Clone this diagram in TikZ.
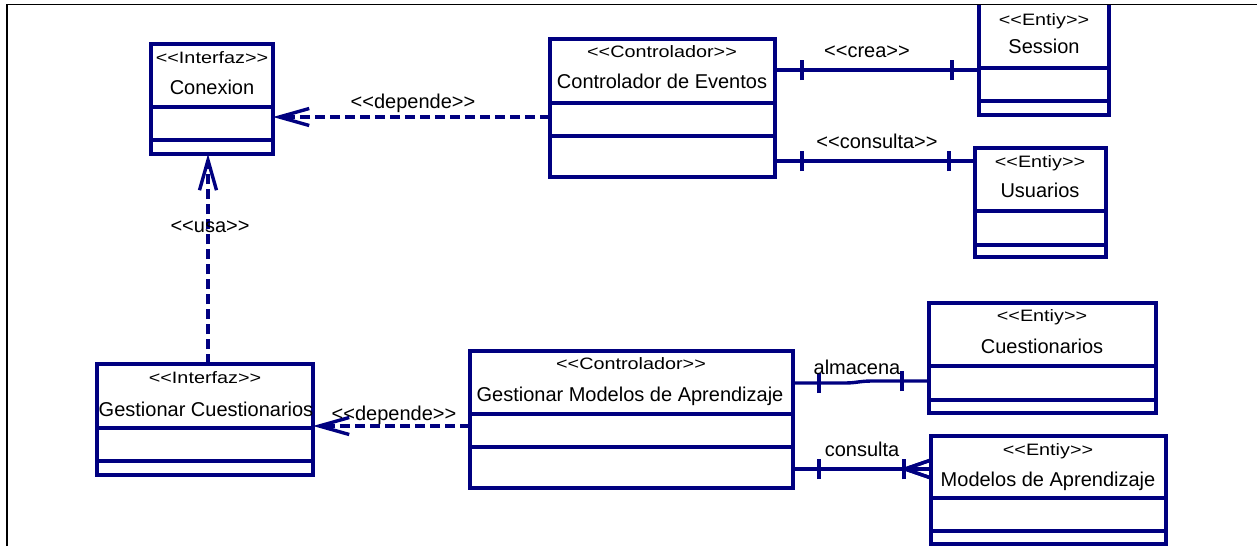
\documentclass[tikz,border=0pt]{standalone}
\usepackage{fontspec}
\setmainfont{Liberation Sans}[Ligatures=TeXOff]
\usepackage{graphicx}
\usetikzlibrary{arrows.meta,decorations.markings}
\definecolor{umlnavy}{RGB}{0,0,128}

% stereotype text: a slightly wide, short face
\newcommand\stereotxt[1]{\scalebox{1.2}[1]{\fontsize{16.5}{18}\selectfont #1}}

% class box: name, x1, y1, x2, y2, first divider, second divider
\newcommand\umlclass[7]{%
  \node[classbox, minimum width={(#4-#2)*1pt}, minimum height={(#5-#3)*1pt}] (#1) at (#2,#3) {};
  \draw[compart] (#1.west |- 0,#6) -- (#1.east |- 0,#6);
  \draw[compart] (#1.west |- 0,#7) -- (#1.east |- 0,#7);
}

\tikzset{
  classbox/.style={draw=umlnavy, line width=3.4pt, fill=white, inner sep=0pt, outer sep=0pt, anchor=north west},
  compart/.style={draw=umlnavy, line width=3.4pt},
  stereo/.style={anchor=base, inner sep=0pt},
  cname/.style={anchor=base, inner sep=0pt, font=\fontsize{20}{24}\selectfont},
  clabel/.style={anchor=base, inner sep=0pt, font=\fontsize{20}{24}\selectfont},
  dep/.style={draw=umlnavy, line width=3.4pt, dash pattern=on 10pt off 5pt,
    -{Straight Barb[length=30pt,width=17pt]}},
  assoc/.style={draw=umlnavy, line width=3.4pt},
  ends/.style 2 args={postaction={decorate}, decoration={markings,
    mark=at position #1 with {\draw[umlnavy,line width=3.4pt] (0pt,-10pt) -- (0pt,10pt);},
    mark=at position #2 with {\draw[umlnavy,line width=3.4pt] (0pt,-10pt) -- (0pt,10pt);}}},
  crowfoot/.style={postaction={decorate}, decoration={markings,
    mark=at position -0.01pt with {\draw[umlnavy,line width=3.4pt] (-26pt,0pt) -- (0pt,9pt);
                                  \draw[umlnavy,line width=3.4pt] (-26pt,0pt) -- (0pt,-9pt);}}},
  frame/.style={draw=black, line width=1.3pt}
}

\begin{document}
\begin{tikzpicture}[x=1pt,y=-1pt]
\useasboundingbox (0,0) rectangle (1257,546);

\begin{scope}
\clip (7,4.3) rectangle (1257,546);

% classes
\umlclass{cnx}{151}{44}{273}{154}{107}{140}
\umlclass{ce}{550}{39}{775}{177}{103}{136}
\umlclass{ses}{979}{2}{1109}{115}{68}{101}
\umlclass{usu}{975}{148}{1106}{257}{211}{245}
\umlclass{gc}{97}{364}{313}{475}{428}{461}
\umlclass{gma}{470}{351}{793}{488}{414}{447}
\umlclass{cue}{929}{303}{1156}{413}{366}{400}
\umlclass{mod}{931}{436}{1166}{544}{498}{531}

% dependencies
\draw[dep] (ce.west |- 0,117) -- (cnx.east |- 0,117);
\draw[dep] (gc.north -| 208,0) -- (cnx.south -| 208,0);
\draw[dep] (gma.west |- 0,426) -- (gc.east |- 0,426);

% associations
\draw[assoc, ends={27pt}{-27pt}] (ce.east |- 0,70) -- (ses.west |- 0,70);
\draw[assoc, ends={27pt}{-26pt}] (ce.east |- 0,161) -- (usu.west |- 0,161);
\draw[assoc, ends={26pt}{-27pt}] (gma.east |- 0,383) -- (845,383)
  .. controls (856,383) and (860,381) .. (872,381) -- (cue.west |- 0,381);
\draw[assoc, ends={26pt}{-27pt}, crowfoot] (gma.east |- 0,469) -- (mod.west |- 0,469);
\end{scope}

% class texts
\node[stereo] (cnx-st) at (212,63) {\stereotxt{<<Interfaz>>}};
\node[cname]  (cnx-nm) at (212,94) {Conexion};
\node[stereo] (ce-st) at (662,57) {\stereotxt{<<Controlador>>}};
\node[cname]  (ce-nm) at (662,88) {Controlador de Eventos};
\node[stereo] (ses-st) at (1044,25) {\stereotxt{<<Entiy>>}};
\node[cname]  (ses-nm) at (1044,53) {Session};
\node[stereo] (usu-st) at (1040,167) {\stereotxt{<<Entiy>>}};
\node[cname]  (usu-nm) at (1040,197) {Usuarios};
\node[stereo] (gc-st) at (205,383) {\stereotxt{<<Interfaz>>}};
\node[cname]  (gc-nm) at (206,416) {Gestionar Cuestionarios};
\node[stereo] (gma-st) at (631,369) {\stereotxt{<<Controlador>>}};
\node[cname]  (gma-nm) at (630,401) {Gestionar Modelos de Aprendizaje};
\node[stereo] (cue-st) at (1042,321) {\stereotxt{<<Entiy>>}};
\node[cname]  (cue-nm) at (1042,353) {Cuestionarios};
\node[stereo] (mod-st) at (1048,455) {\stereotxt{<<Entiy>>}};
\node[cname]  (mod-nm) at (1048,486) {Modelos de Aprendizaje};

% connector labels
\node[clabel] (lbl-dep1) at (413,108) {<<depende>>};
\node[clabel] (lbl-usa) at (210,232) {<<usa>>};
\node[clabel] (lbl-dep2) at (394,420) {<<depende>>};
\node[clabel] (lbl-crea) at (867,57) {<<crea>>};
\node[clabel] (lbl-cons1) at (877,148) {<<consulta>>};
\node[clabel] (lbl-alm) at (857,374) {almacena};
\node[clabel] (lbl-cons2) at (862,456) {consulta};

% page frame
\draw[frame] (7,546) -- (7,4.3) -- (1257,4.3);
\end{tikzpicture}
\end{document}
